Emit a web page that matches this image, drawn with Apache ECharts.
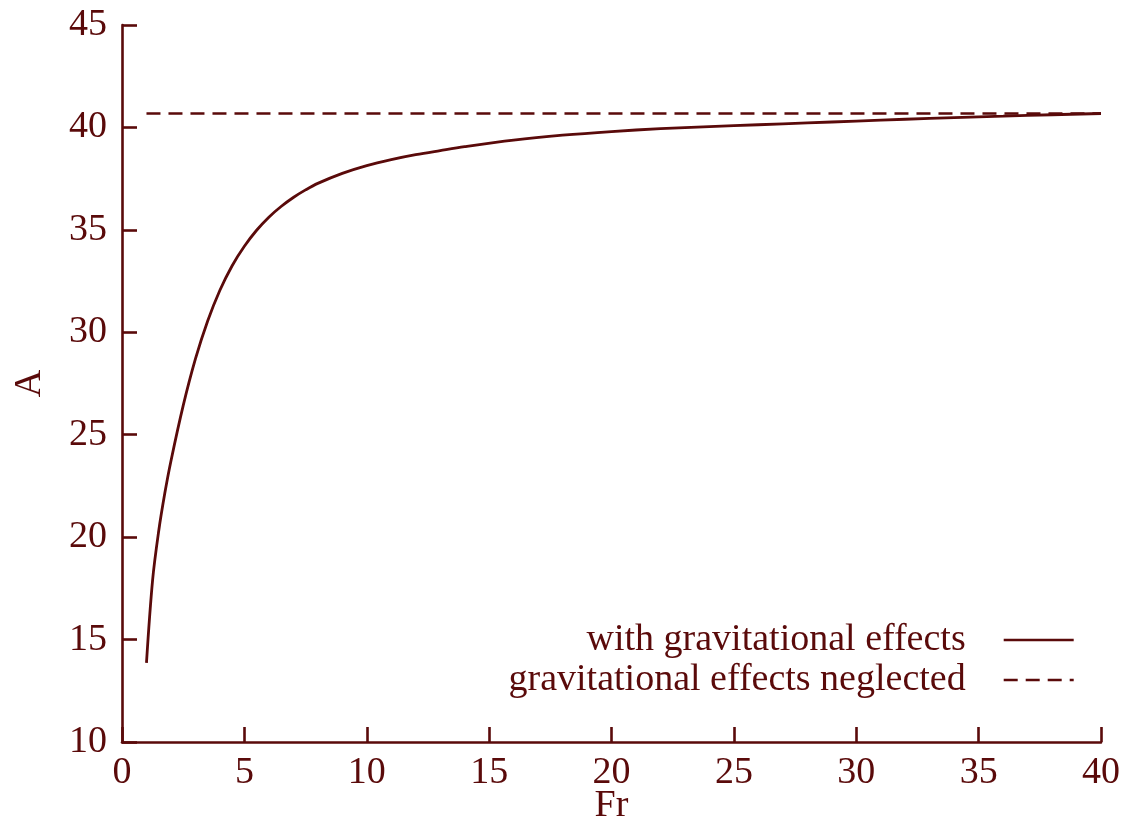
<!DOCTYPE html>
<html>
<head>
<meta charset="utf-8">
<script src="https://cdn.jsdelivr.net/npm/echarts@6/dist/echarts.min.js"></script>
<style>html,body{margin:0;padding:0;background:#fff}#c{width:1128px;height:825px}</style>
</head>
<body>
<div id="c"></div>
<script>
const fr = [1, 1.25, 1.5, 1.75, 2, 2.5, 3, 3.5, 4, 4.5, 5, 5.5, 6, 6.5, 7, 7.5, 8, 9, 10, 11, 12, 13, 14, 16, 18, 20, 22, 24, 26, 28, 30, 32, 34, 36, 38, 40];
const withGrav = [13.86, 17.9, 20.3, 22.15, 23.72, 26.42, 28.7, 30.55, 32.05, 33.25, 34.2, 34.98, 35.62, 36.14, 36.58, 36.95, 37.27, 37.76, 38.14, 38.43, 38.67, 38.87, 39.06, 39.38, 39.62, 39.8, 39.94, 40.04, 40.13, 40.22, 40.31, 40.4, 40.48, 40.55, 40.62, 40.68];
const neglectedFr = [1, 40];
const neglected = [40.68, 40.68];
const seriesNames = ['with gravitational effects', 'gravitational effects neglected'];

const C = '#5a0a0a';
const FONT = '"Liberation Serif", "DejaVu Serif", serif';

const chart = echarts.init(document.getElementById('c'));
chart.setOption({
  animation: false,
  backgroundColor: '#fff',
  grid: { left: 122, right: 27, top: 25, bottom: 83, outerBoundsMode: 'none', containLabel: false },
  xAxis: {
    type: 'value', min: 0, max: 40, interval: 5,
    name: 'Fr', nameLocation: 'middle', nameGap: 45, nameMoveOverlap: false,
    nameTextStyle: { color: C, fontFamily: FONT, fontSize: 38 },
    axisLine: { lineStyle: { color: C, width: 2.6 } },
    axisTick: { inside: true, length: 15, lineStyle: { color: C, width: 2.6 } },
    axisLabel: { color: C, fontFamily: FONT, fontSize: 38, margin: 12 },
    splitLine: { show: false }
  },
  yAxis: {
    type: 'value', min: 10, max: 45, interval: 5,
    name: 'A', nameLocation: 'middle', nameGap: 73, nameRotate: 90, nameMoveOverlap: false,
    nameTextStyle: { color: C, fontFamily: FONT, fontSize: 38 },
    axisLine: { lineStyle: { color: C, width: 2.6 } },
    axisTick: { inside: true, length: 15, lineStyle: { color: C, width: 2.6 } },
    axisLabel: { color: C, fontFamily: FONT, fontSize: 38, margin: 15 },
    splitLine: { show: false }
  },
  legend: {
    right: 48, top: 616, orient: 'vertical', align: 'right',
    itemWidth: 70, itemHeight: 20, itemGap: 2,
    itemStyle: { opacity: 0 },
    lineStyle: { width: 2.6 },
    textStyle: { color: C, fontFamily: FONT, fontSize: 38, padding: [0, 33, 0, 0] },
    data: seriesNames
  },
  series: [
    {
      name: seriesNames[0], type: 'line', smooth: 0.35, symbol: 'none',
      data: fr.map((x, i) => [x, withGrav[i]]),
      lineStyle: { color: C, width: 2.8 }, itemStyle: { color: C }
    },
    {
      name: seriesNames[1], type: 'line', symbol: 'none',
      data: neglectedFr.map((x, i) => [x, neglected[i]]),
      lineStyle: { color: C, width: 2.6, type: [14, 8] }, itemStyle: { color: C }
    }
  ]
});
</script>
</body>
</html>
